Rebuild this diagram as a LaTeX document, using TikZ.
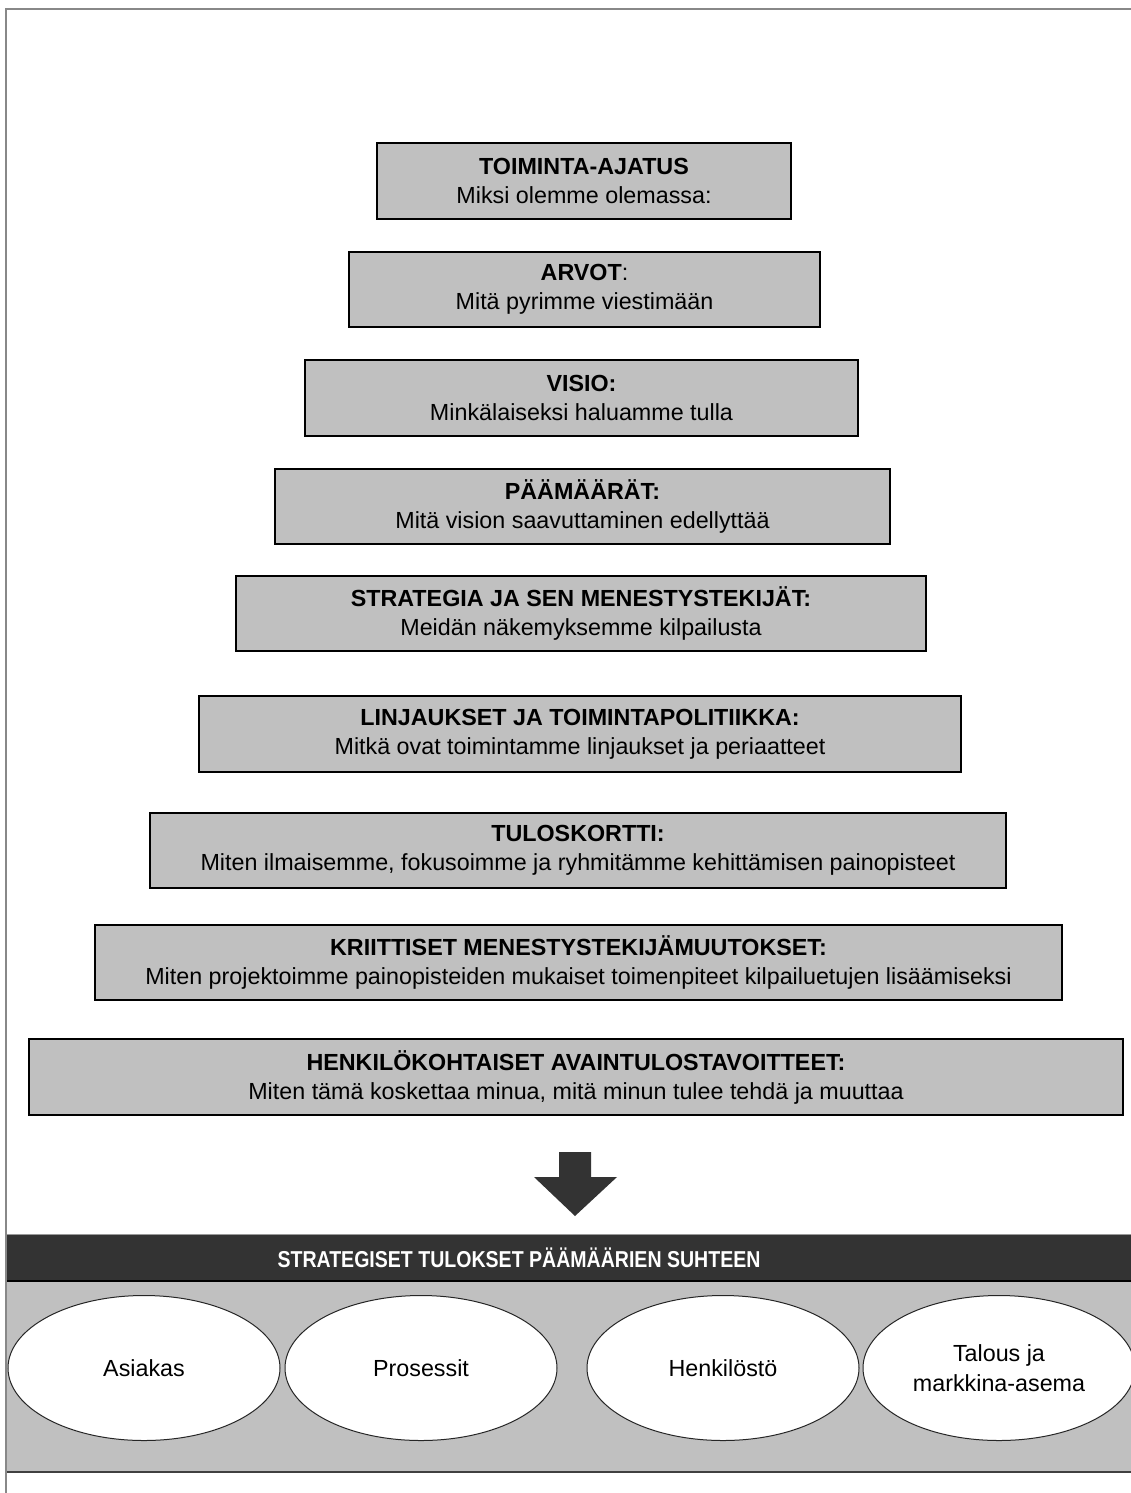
\documentclass[tikz,border=0pt]{standalone}
\usepackage{fontspec}
\usepackage{graphicx}
\setmainfont{Liberation Sans}
\usetikzlibrary{shapes.geometric}
\definecolor{boxgray}{HTML}{C0C0C0}
\definecolor{darkband}{HTML}{333333}
\definecolor{framegray}{HTML}{888888}
\begin{document}
\begin{tikzpicture}[x=1pt,y=-1pt,
  pbox/.style={draw=black, line width=1.5pt, fill=boxgray, align=center, inner sep=0pt,
    font=\fontsize{23.3}{29}\selectfont},
  oval/.style={ellipse, draw=black!85, line width=1pt, fill=white,
    minimum width=272pt, minimum height=145pt, inner sep=0pt, align=center,
    font=\fontsize{23.3}{29.5}\selectfont},
  bandtext/.style={text=white, font=\fontsize{23}{28}\selectfont\bfseries}]
\useasboundingbox (0,0) rectangle (1131,1493);
\fill[white] (0,0) rectangle (1131,1493);
% outer frame
\draw[framegray, line width=2pt] (6,1500) -- (6,9) -- (1140,9);

% pyramid boxes
\node[pbox, minimum width=414pt, minimum height=76pt] (b1) at (584,181)
  {{\bfseries TOIMINTA-AJATUS}\\Miksi olemme olemassa:};
\node[pbox, minimum width=471pt, minimum height=75pt] (b2) at (584.5,289.5)
  {{\bfseries ARVOT}:\\Mitä pyrimme viestimään};
\node[pbox, minimum width=553pt, minimum height=76pt] (b3) at (581.5,398)
  {{\bfseries VISIO:}\\Minkälaiseksi haluamme tulla};
\node[pbox, minimum width=615pt, minimum height=75pt] (b4) at (582.5,506.5)
  {{\bfseries PÄÄMÄÄRÄT:}\\Mitä vision saavuttaminen edellyttää};
\node[pbox, minimum width=690pt, minimum height=75pt] (b5) at (581,613.5)
  {{\bfseries STRATEGIA JA SEN MENESTYSTEKIJÄT:}\\Meidän näkemyksemme kilpailusta};
\node[pbox, minimum width=762pt, minimum height=76pt] (b6) at (580,734)
  {{\bfseries LINJAUKSET JA TOIMINTAPOLITIIKKA:}\\Mitkä ovat toimintamme linjaukset ja periaatteet};
\node[pbox, minimum width=856pt, minimum height=75pt] (b7) at (578,850.5)
  {{\bfseries TULOSKORTTI:}\\Miten ilmaisemme, fokusoimme ja ryhmitämme kehittämisen painopisteet};
\node[pbox, minimum width=967pt, minimum height=75pt] (b8) at (578.5,962.5)
  {{\bfseries KRIITTISET MENESTYSTEKIJÄMUUTOKSET:}\\Miten projektoimme painopisteiden mukaiset toimenpiteet kilpailuetujen lisäämiseksi};
\node[pbox, minimum width=1094pt, minimum height=76pt] (b9) at (576,1077)
  {{\bfseries HENKILÖKOHTAISET AVAINTULOSTAVOITTEET:}\\Miten tämä koskettaa minua, mitä minun tulee tehdä ja muuttaa};

% big arrow
\fill[darkband] (559,1152) -- (591,1152) -- (591,1177) -- (617,1177) -- (575,1216)
  -- (534,1177) -- (559,1177) -- cycle;

% result band
\fill[darkband] (6,1234) rectangle (1140,1281);
\draw[black!40, line width=1pt] (6,1234) -- (1140,1234);
\fill[boxgray] (6,1281) rectangle (1140,1472);
\draw[black, line width=1.5pt] (6,1281) -- (1140,1281);
\draw[black!75, line width=1.5pt] (6,1472) -- (1140,1472);
\draw[framegray, line width=2pt] (6,1230) -- (6,1493);
\node[bandtext] (bandtitle) at (519,1257.5) {\scalebox{0.85}[1]{STRATEGISET TULOKSET PÄÄMÄÄRIEN SUHTEEN}};

% ellipses
\node[oval] (e1) at (144,1368) {Asiakas};
\node[oval] (e2) at (421,1368) {Prosessit};
\node[oval] (e3) at (723,1368) {Henkilöstö};
\node[oval] (e4) at (999,1368) {Talous ja\\markkina-asema};
\end{tikzpicture}
\end{document}
